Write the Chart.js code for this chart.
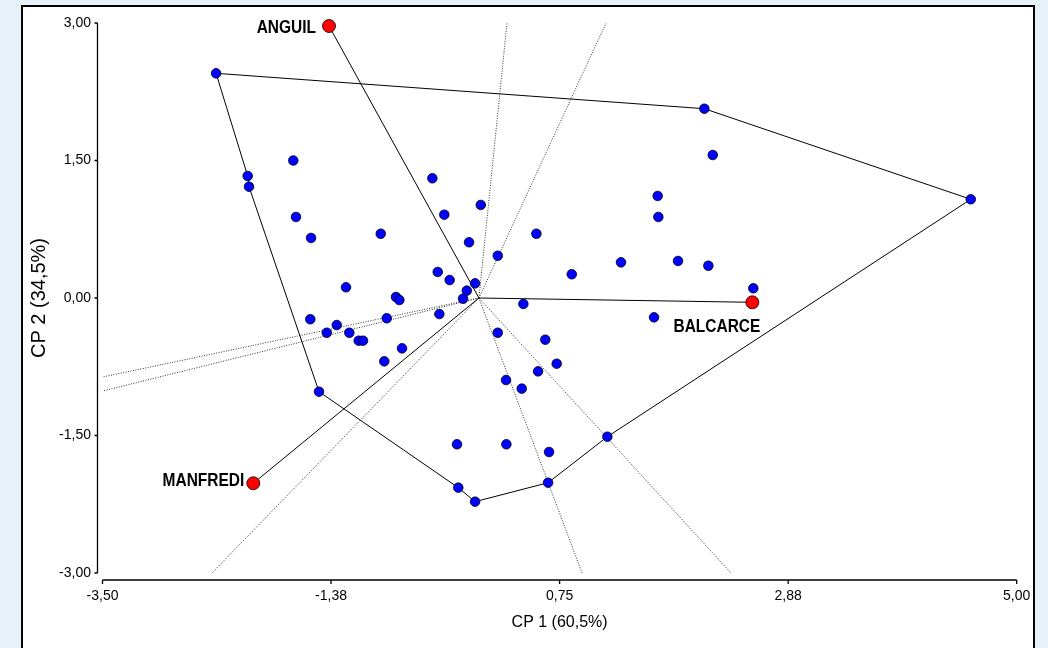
<!DOCTYPE html>
<html>
<head>
<meta charset="utf-8">
<title>Biplot CP1 x CP2</title>
<script src="https://cdn.jsdelivr.net/npm/chart.js@4.4.1/dist/chart.umd.min.js"></script>
<style>
  html, body { margin: 0; padding: 0; }
  body { width: 1048px; height: 648px; background: #e6f1f8; position: relative; overflow: hidden; }
  #panel { position: absolute; left: 21px; top: 5px; width: 1010px; height: 700px; background: #fff; border: 2px solid #000; }
  #wrap { position: absolute; left: 0; top: 0; width: 1048px; height: 648px; }
</style>
</head>
<body>
<div id="panel"></div>
<div id="wrap"><canvas id="biplot" width="1048" height="648"></canvas></div>
<script>
// ambientes
const envNames = ["ANGUIL", "BALCARCE", "MANFREDI"];
const envX = [-1.394, 2.542, -2.098];
const envY = [2.967, -0.047, -2.021];

// genotipos
const genoX = [-2.444, 2.096, 2.174, 4.573, -1.726, -2.150, -2.138, -0.433, 1.662, 0.017,
  -1.701, -0.322, 1.668, -1.561, -0.913, 0.534, -0.092, 0.175, 1.321, 1.851,
  2.133, 0.863, -0.383, -0.272, -0.036, -1.236, -0.113, -0.148, -0.771, -0.740,
  2.551, 0.413, -0.368, 1.628, -1.568, -0.857, -1.322, -1.415, -1.205, -1.118,
  -1.078, 0.175, 0.617, -0.715, -0.880, 0.723, 0.550, 0.252, 0.398, -1.487,
  1.194, -0.204, 0.255, 0.652, -0.192, 0.643, -0.036];
const genoY = [2.451, 2.065, 1.560, 1.077, 1.500, 1.331, 1.214, 1.306, 1.113, 1.015,
  0.884, 0.909, 0.884, 0.655, 0.701, 0.701, 0.608, 0.461, 0.389, 0.404,
  0.352, 0.259, 0.284, 0.196, 0.160, 0.117, 0.080, -0.008, 0.011, -0.022,
  0.106, -0.065, -0.175, -0.211, -0.232, -0.221, -0.295, -0.379, -0.379, -0.466,
  -0.466, -0.379, -0.455, -0.549, -0.691, -0.717, -0.800, -0.895, -0.989, -1.022,
  -1.513, -1.596, -1.596, -1.680, -2.069, -2.015, -2.222];

// poligono (indices de genotipos en el vertice)
const hullIdx = [0, 1, 3, 50, 55, 56, 54, 49, 6, 5, 0];

// rectas perpendiculares a los lados
const rayX = [0.261, 1.182, -3.5, -3.5, -2.482, 0.959, 2.344];
const rayY = [3.0, 3.0, -0.862, -1.015, -3.0, -3.0, -3.0];

const xTicks = [-3.5, -1.375, 0.75, 2.875, 5];
const xTickLabels = ["-3,50", "-1,38", "0,75", "2,88", "5,00"];
const yTicks = [-3, -1.5, 0, 1.5, 3];
const yTickLabels = ["-3,00", "-1,50", "0,00", "1,50", "3,00"];

const tickFont = { family: "'Liberation Sans', Arial, sans-serif", size: 14 };
const labelStyle = {
  ANGUIL: { dx: -13, dy: 2, align: "right" },
  BALCARCE: { dx: 8, dy: 25, align: "right" },
  MANFREDI: { dx: -9, dy: -2, align: "right" }
};

const datasets = [];

rayX.forEach((rx, i) => {
  datasets.push({
    data: [{ x: 0, y: 0 }, { x: rx, y: rayY[i] }],
    showLine: true, borderColor: "#333", borderWidth: 1, borderDash: [1, 1.5],
    pointRadius: 0, order: 6
  });
});

datasets.push({
  data: hullIdx.map(i => ({ x: genoX[i], y: genoY[i] })),
  showLine: true, borderColor: "#000", borderWidth: 1, pointRadius: 0, order: 5
});

envX.forEach((ex, i) => {
  datasets.push({
    data: [{ x: 0, y: 0 }, { x: ex, y: envY[i] }],
    showLine: true, borderColor: "#000", borderWidth: 1, pointRadius: 0, order: 5
  });
});

datasets.push({
  label: "Genotipos",
  data: genoX.map((gx, i) => ({ x: gx, y: genoY[i] })),
  backgroundColor: "#0000ff", borderColor: "#000", borderWidth: 0.8,
  pointRadius: 4.8, order: 2, clip: false
});

datasets.push({
  label: "Ambientes",
  data: envX.map((ex, i) => ({ x: ex, y: envY[i] })),
  backgroundColor: "#ff0000", borderColor: "#000", borderWidth: 0.8,
  pointRadius: 6.5, order: 1, clip: false
});

const axesAndLabels = {
  id: "axesAndLabels",
  beforeDatasetsDraw(chart) {
    const { ctx, chartArea: a, scales: { x, y } } = chart;
    ctx.save();
    ctx.strokeStyle = "#000";
    ctx.lineWidth = 1.3;
    ctx.beginPath();
    const ax = Math.round(a.left) - 5.5;
    ctx.moveTo(ax, y.getPixelForValue(3));
    ctx.lineTo(ax, y.getPixelForValue(-3));
    yTicks.forEach(v => {
      const p = y.getPixelForValue(v);
      ctx.moveTo(ax - 3, p);
      ctx.lineTo(ax, p);
    });
    const ay = Math.round(a.bottom) + 7;
    ctx.moveTo(x.getPixelForValue(-3.5), ay);
    ctx.lineTo(x.getPixelForValue(5), ay);
    xTicks.forEach(v => {
      const p = x.getPixelForValue(v);
      ctx.moveTo(p, ay);
      ctx.lineTo(p, ay + 4);
    });
    ctx.stroke();

    ctx.fillStyle = "#000";
    ctx.textAlign = "center";
    ctx.textBaseline = "middle";
    ctx.font = "16px 'Liberation Sans', Arial, sans-serif";
    ctx.fillText("CP 1 (60,5%)", (a.left + a.right) / 2, 623);
    ctx.font = "20px 'Liberation Sans', Arial, sans-serif";
    ctx.translate(39, (a.top + a.bottom) / 2);
    ctx.rotate(-Math.PI / 2);
    ctx.fillText("CP 2 (34,5%)", 0, 0);
    ctx.restore();
  },
  afterDatasetsDraw(chart) {
    const { ctx, scales: { x, y } } = chart;
    ctx.fillStyle = "#000";
    ctx.font = "bold 18px 'Liberation Sans', Arial, sans-serif";
    ctx.textBaseline = "middle";
    envNames.forEach((name, i) => {
      const s = labelStyle[name];
      const px = x.getPixelForValue(envX[i]) + s.dx;
      const py = y.getPixelForValue(envY[i]) + s.dy;
      // rotulos algo condensados como en el original
      ctx.save();
      ctx.translate(px, py);
      ctx.scale(0.86, 1);
      ctx.textAlign = s.align;
      ctx.fillText(name, 0, 0);
      ctx.restore();
    });
  }
};

new Chart("biplot", {
  type: "scatter",
  data: { datasets: datasets },
  plugins: [axesAndLabels],
  options: {
    responsive: false,
    animation: false,
    layout: { padding: { left: 0, top: 23, right: 31.3, bottom: 0 } },
    plugins: {
      legend: { display: false },
      tooltip: { enabled: false }
    },
    scales: {
      x: {
        type: "linear", min: -3.5, max: 5,
        afterBuildTicks: s => { s.ticks = xTicks.map(v => ({ value: v })); },
        afterFit: s => { s.height = 75; },
        ticks: {
          callback: (v, i) => xTickLabels[i],
          font: tickFont, color: "#000", padding: 15,
          maxRotation: 0, autoSkip: false
        },
        grid: { display: false, drawTicks: false },
        border: { display: false }
      },
      y: {
        type: "linear", min: -3, max: 3,
        afterBuildTicks: s => { s.ticks = yTicks.map(v => ({ value: v })); },
        afterFit: s => { s.width = 102.5; },
        ticks: {
          callback: (v, i) => yTickLabels[i],
          font: tickFont, color: "#000", padding: 11.5, autoSkip: false
        },
        grid: { display: false, drawTicks: false },
        border: { display: false }
      }
    }
  }
});
</script>
</body>
</html>
